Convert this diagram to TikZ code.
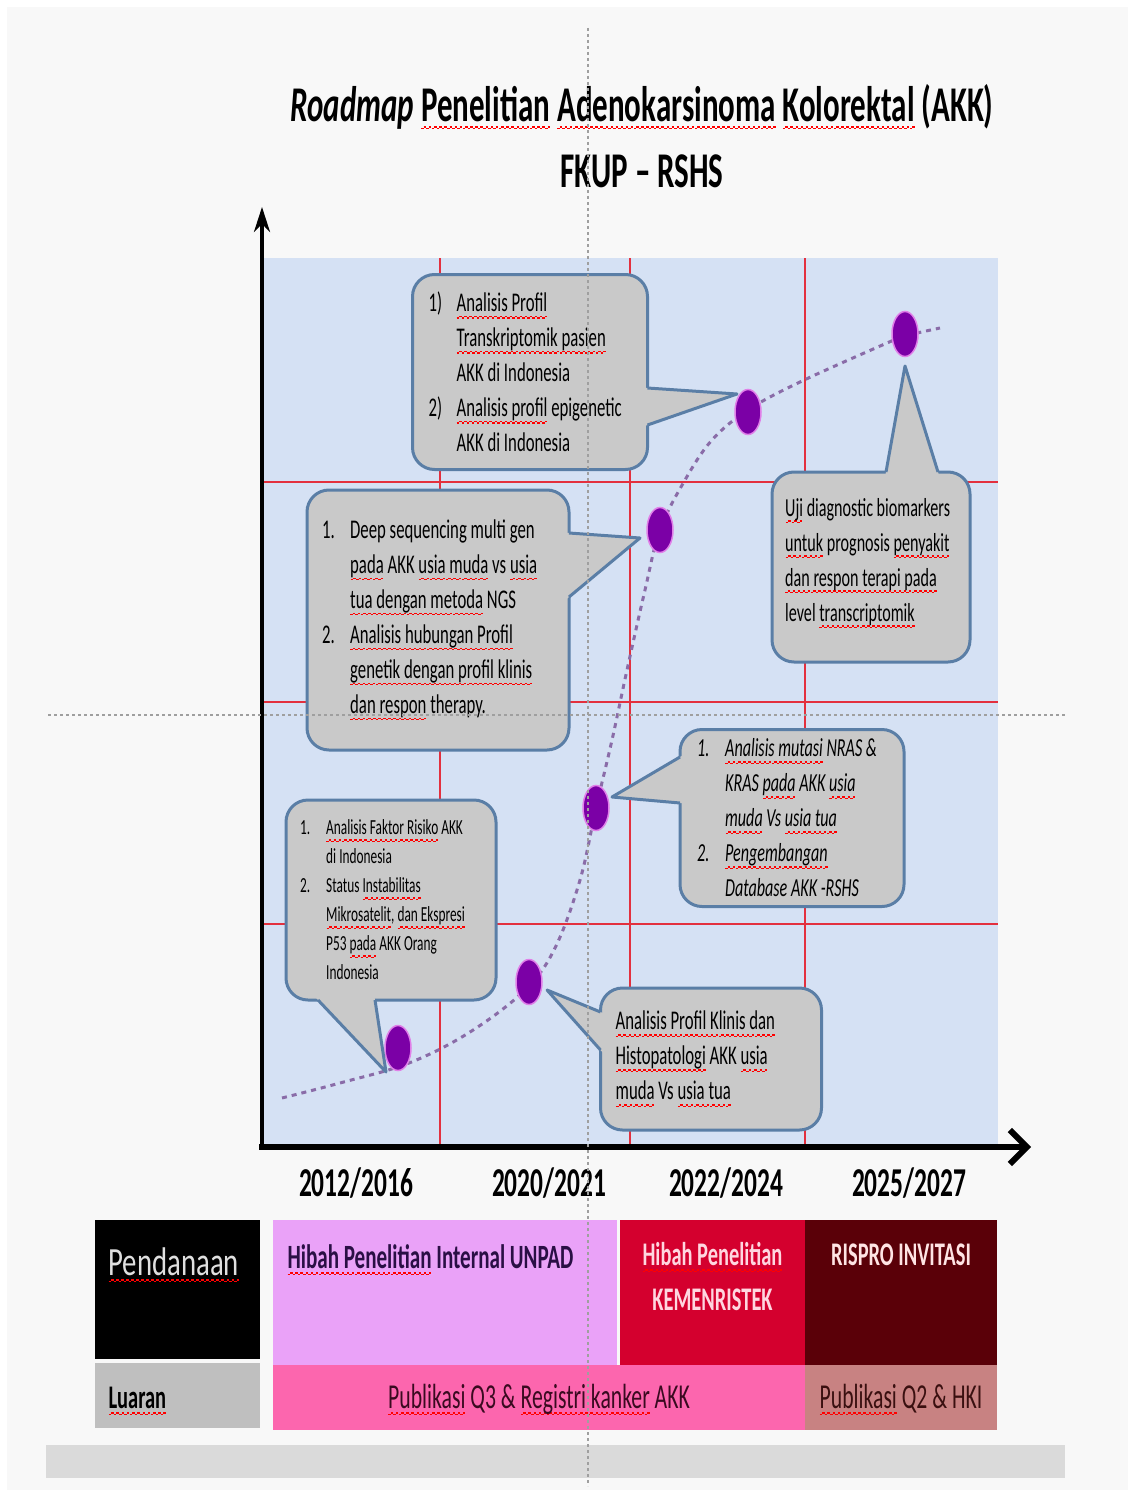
\documentclass[tikz,border=0pt]{standalone}
\usepackage{fontspec}
\usetikzlibrary{arrows.meta,calc,shapes.geometric}
\newfontfamily\cf{Carlito}[FakeStretch=0.62]
\newfontfamily\cfw{Carlito}[FakeStretch=0.72]
\definecolor{pagegrey}{HTML}{F8F8F8}
\definecolor{chartblue}{HTML}{D5E1F4}
\definecolor{gridred}{HTML}{E3303E}
\definecolor{boxgrey}{HTML}{C9C9C9}
\definecolor{boxline}{HTML}{5A7EA6}
\definecolor{dotpurple}{HTML}{7B00A6}
\definecolor{dotglow}{HTML}{E080E8}
\definecolor{curvecol}{HTML}{8A6CA8}
\definecolor{unpad}{HTML}{EAA2F8}
\definecolor{kemen}{HTML}{D4002E}
\definecolor{rispro}{HTML}{5A0008}
\definecolor{pubq3}{HTML}{FC66AE}
\definecolor{pubq2}{HTML}{C88282}
\definecolor{bargrey}{HTML}{DADADA}
\newsavebox\sqbox
\newcommand\sq[1]{\sbox\sqbox{#1}\rlap{\textcolor{red}{\raisebox{-7pt}{\hbox to\wd\sqbox{\xleaders\hbox{\rule{2.5pt}{1.3pt}\rule[1.3pt]{2.5pt}{1.3pt}}\hfill}}}}\usebox\sqbox}
\newcommand\itm[1]{\makebox[28pt][l]{#1}}
\newcommand\ind{\hspace*{28pt}}
\newcommand\callptr[3]{%
  \fill[boxgrey] ($#1!-6pt!#2$) -- #2 -- ($#3!-6pt!#2$) -- cycle;
  \draw[boxline,line width=3pt,line join=round] #1 -- #2 -- #3;}
\begin{document}
\begin{tikzpicture}[x=1pt,y=-1pt,
    callbox/.style={draw=boxline,fill=boxgrey,line width=3pt,rounded corners=22pt,outer sep=0pt,inner sep=0pt},
    calltext/.style={anchor=west,align=left,inner sep=0pt,font=\fontsize{27}{35}\selectfont\cf},
    dot/.style={ellipse,fill=dotpurple,draw=dotglow,line width=1.5pt,minimum width=26pt,minimum height=45pt,inner sep=0pt},
    cell/.style={anchor=north west,inner sep=0pt,outer sep=0pt},
    year/.style={anchor=base,font=\fontsize{41}{41}\selectfont\cf\bfseries},
    redline/.style={gridred,line width=2pt},
    guide/.style={gray!75,line width=1.2pt,dash pattern=on 3pt off 3pt}]
\useasboundingbox (0,0) rectangle (1128,1490);
\fill[pagegrey] (7,7) rectangle (1128,1490);
\fill[bargrey] (46,1445) rectangle (1065,1478);

% chart area
\fill[chartblue] (262,258) rectangle (998,1145);
\foreach \gx in {440,630,805}
  \draw[redline] (\gx,258) -- (\gx,1145);
\foreach \gy in {482,702,924}
  \draw[redline] (262,\gy) -- (998,\gy);
\coordinate (origin) at (262,1147);
\draw[line width=4pt,-{Stealth[length=25pt,width=16pt]}] (origin) -- (262,207);
\draw[line width=6pt,-{Straight Barb[length=17pt,width=34pt]}] ($(origin)+(-3,0)$) -- (1031,1147);

\draw[curvecol,line width=3pt,dash pattern=on 5pt off 5pt] plot[smooth,tension=0.6] coordinates {
  (282,1098) (340,1083) (409,1063) (470,1032) (525,990) (555,948) (580,880) (596,808)
  (612,740) (627,670) (645,590) (660,530) (685,480) (712,440) (748,410) (800,382)
  (887,343) (905,336) (940,328)};

% milestones
\node[dot] (dE) at (398,1048) {};
\node[dot] (dF) at (529,982) {};
\node[dot] (dD) at (596,808) {};
\node[dot] (dC) at (660,530) {};
\node[dot] (dA) at (748,412) {};
\node[dot] (dB) at (905,334) {};

% callouts
\node[callbox,minimum width=235pt,minimum height=195pt] (boxA) at (530,372) {};
\coordinate (a1) at ($(boxA.east)+(0,16)$);
\coordinate (a2) at ($(boxA.east)+(0,53)$);
\coordinate (aT) at ($(dA)+(-11,-18)$);
\callptr{(a1)}{(aT)}{(a2)}
\node[calltext] (txtA) at ($(boxA.west)+(16,0)$) {\itm{1)}\sq{Analisis Profil}\\
  \ind\sq{Transkriptomik pasien}\\
  \ind AKK di Indonesia\\
  \itm{2)}\sq{Analisis profil} epigenetic\\
  \ind AKK di Indonesia};

\node[callbox,minimum width=198pt,minimum height=190pt] (boxB) at (871,567) {};
\coordinate (b1) at ($(boxB.north)+(15,0)$);
\coordinate (b2) at ($(boxB.north)+(67,0)$);
\coordinate (bT) at ($(dB)+(0,32)$);
\callptr{(b1)}{(bT)}{(b2)}
\node[calltext,font=\fontsize{26}{35}\selectfont\cf] (txtB) at ($(boxB.west)+(13,-4)$) {\sq{Uji} diagnostic biomarkers\\
  \sq{untuk} prognosis \sq{penyakit}\\
  \sq{dan respon terapi pada}\\
  level \sq{transcriptomik}};

\node[callbox,minimum width=262pt,minimum height=260pt] (boxC) at (438,620) {};
\coordinate (c1) at ($(boxC.east)+(0,-87)$);
\coordinate (c2) at ($(boxC.east)+(0,-23)$);
\coordinate (cT) at ($(dC)+(-20,8)$);
\callptr{(c1)}{(cT)}{(c2)}
\node[calltext] (txtC) at ($(boxC.west)+(15,0)$) {\itm{1.}Deep sequencing multi gen\\
  \ind\sq{pada} AKK \sq{usia muda} vs \sq{usia}\\
  \ind\sq{tua dengan metoda} NGS\\
  \itm{2.}\sq{Analisis hubungan Profil}\\
  \ind\sq{genetik dengan profil klinis}\\
  \ind\sq{dan respon} therapy.};

\node[callbox,minimum width=224pt,minimum height=177pt] (boxD) at (792,818) {};
\coordinate (d1) at ($(boxD.west)+(0,-61)$);
\coordinate (d2) at ($(boxD.west)+(0,-15)$);
\coordinate (dT) at ($(dD)+(16,-11)$);
\callptr{(d1)}{(dT)}{(d2)}
\node[calltext,font=\fontsize{26}{35}\selectfont\cf\itshape] (txtD) at ($(boxD.west)+(17,0)$) {\itm{1.}\sq{Analisis mutasi} NRAS \&\\
  \ind KRAS \sq{pada} AKK \sq{usia}\\
  \ind\sq{muda} Vs \sq{usia tua}\\
  \itm{2.}\sq{Pengembangan}\\
  \ind Database AKK -RSHS};

\node[callbox,minimum width=210pt,minimum height=200pt] (boxE) at (391,900) {};
\coordinate (e1) at ($(boxE.south)+(-73,0)$);
\coordinate (e2) at ($(boxE.south)+(-16,0)$);
\coordinate (eT) at ($(dE)+(-12,24)$);
\callptr{(e1)}{(eT)}{(e2)}
\node[calltext,font=\fontsize{21.5}{29}\selectfont\cf] (txtE) at ($(boxE.west)+(14,0)$) {\makebox[26pt][l]{1.}\sq{Analisis Faktor Risiko} AKK\\
  \hspace*{26pt}di Indonesia\\
  \makebox[26pt][l]{2.}Status \sq{Instabilitas}\\
  \hspace*{26pt}\sq{Mikrosatelit}, \sq{dan Ekspresi}\\
  \hspace*{26pt}P53 \sq{pada} AKK Orang\\
  \hspace*{26pt}Indonesia};

\node[callbox,minimum width=221pt,minimum height=142pt] (boxF) at (711,1059) {};
\coordinate (f1) at ($(boxF.west)+(0,-47)$);
\coordinate (f2) at ($(boxF.west)+(0,-9)$);
\coordinate (fT) at ($(dF)+(18,8)$);
\callptr{(f1)}{(fT)}{(f2)}
\node[calltext] (txtF) at ($(boxF.west)+(15,0)$) {\sq{Analisis Profil Klinis dan}\\
  \sq{Histopatologi} AKK \sq{usia}\\
  \sq{muda} Vs \sq{usia tua}};

% titles and years
\node[anchor=base,font=\fontsize{50}{50}\selectfont\cf\bfseries] (title) at (642,122)
  {\textit{Roadmap} \sq{Penelitian} \sq{Adenokarsinoma} \sq{Kolorektal} (AKK)};
\node[anchor=base,font=\fontsize{50}{50}\selectfont\cf\bfseries] (subtitle) at (642,187) {FKUP – RSHS};
\node[year] (y1) at (356,1196) {2012/2016};
\node[year] (y2) at (549,1196) {2020/2021};
\node[year] (y3) at (726,1196) {2022/2024};
\node[year] (y4) at (909,1196) {2025/2027};

% funding and output table
\node[cell,fill=black,minimum width=165pt,minimum height=139pt] (fund) at (95,1220) {};
\node[cell,fill=gray!50,minimum width=165pt,minimum height=65pt] (outp) at (95,1363) {};
\node[cell,fill=unpad,minimum width=344pt,minimum height=145pt] (unpad) at (273,1220) {};
\node[cell,fill=kemen,minimum width=185pt,minimum height=145pt] (kemen) at (620,1220) {};
\node[cell,fill=rispro,minimum width=192pt,minimum height=145pt] (rispro) at (805,1220) {};
\node[cell,fill=pubq3,minimum width=532pt,minimum height=65pt] (pubA) at (273,1365) {};
\node[cell,fill=pubq2,minimum width=192pt,minimum height=65pt] (pubB) at (805,1365) {};
\node[anchor=base west,font=\fontsize{40}{40}\selectfont\cfw,text=gray!25] at ($(fund.north west)+(10,55)$) {\sq{Pendanaan}};
\node[anchor=base west,font=\fontsize{33}{33}\selectfont\cf\bfseries] at ($(outp.north west)+(10,45)$) {\sq{Luaran}};
\node[anchor=base west,font=\fontsize{34}{34}\selectfont\cf\bfseries,text={rgb,255:red,42;green,15;blue,69}] at ($(unpad.north west)+(11,48)$) {\sq{Hibah Penelitian} Internal UNPAD};
\node[anchor=base,font=\fontsize{33}{33}\selectfont\cf\bfseries,text={rgb,255:red,255;green,214;blue,224}] at ($(kemen.north)+(0,45)$) {\sq{Hibah Penelitian}};
\node[anchor=base,font=\fontsize{33}{33}\selectfont\cf\bfseries,text={rgb,255:red,255;green,214;blue,224}] at ($(kemen.north)+(0,90)$) {KEMENRISTEK};
\node[anchor=base,font=\fontsize{33}{33}\selectfont\cf\bfseries,text={rgb,255:red,255;green,228;blue,228}] at ($(rispro.north)+(0,45)$) {RISPRO INVITASI};
\node[anchor=base,font=\fontsize{35}{35}\selectfont\cf,text={rgb,255:red,58;green,10;blue,32}] at ($(pubA.north)+(0,43)$) {\sq{Publikasi} Q3 \& \sq{Registri kanker} AKK};
\node[anchor=base,font=\fontsize{35}{35}\selectfont\cf,text={rgb,255:red,58;green,16;blue,16}] at ($(pubB.north)+(0,43)$) {\sq{Publikasi} Q2 \& HKI};

% guide lines
\draw[guide] (588,28) -- (588,1486);
\draw[guide] (48,715) -- (1066,715);
\end{tikzpicture}
\end{document}
